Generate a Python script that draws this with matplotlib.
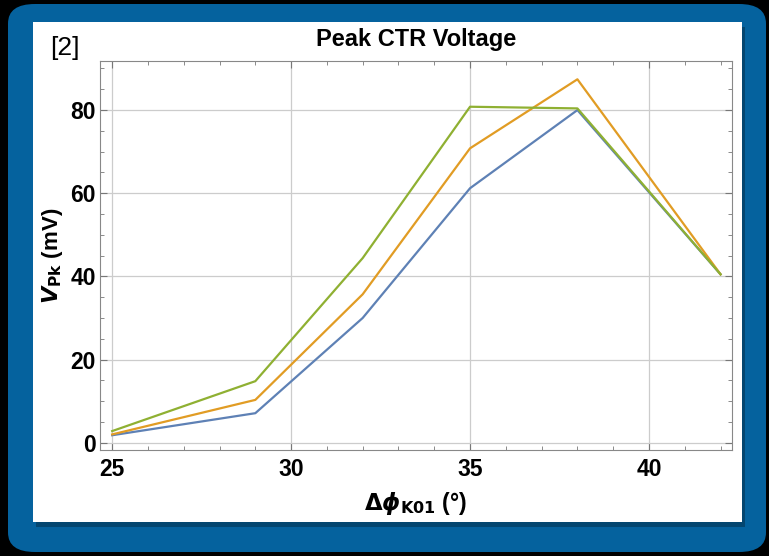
import matplotlib.pyplot as plt
from matplotlib.patches import FancyBboxPatch, Rectangle
from matplotlib.ticker import MultipleLocator

# phase offset (deg) and peak CTR voltage (mV) per setting
phase = [25, 29, 32, 35, 38, 42]
v_blue = [1.8, 7.1, 30.0, 61.2, 80.0, 40.5]
v_orange = [2.0, 10.3, 35.7, 70.8, 87.4, 40.5]
v_green = [2.8, 14.8, 44.4, 80.8, 80.4, 40.5]

W, H = 769, 556
fig = plt.figure(figsize=(W / 100, H / 100), dpi=100)
fig.patch.set_facecolor('black')

# blue rounded frame
frame = FancyBboxPatch((8 / W, 4 / H), 758 / W, 548 / H,
                       boxstyle="round,pad=0,rounding_size=0.035",
                       transform=fig.transFigure, facecolor='#05629e',
                       edgecolor='none', zorder=0)
fig.patches.append(frame)
# white panel with a soft shadow
fig.patches.append(Rectangle((36 / W, (H - 527) / H), 709 / W, 500 / H,
                             transform=fig.transFigure, facecolor='#044670',
                             edgecolor='none', zorder=0.5))
fig.patches.append(Rectangle((33 / W, (H - 522) / H), 709 / W, 500 / H,
                             transform=fig.transFigure, facecolor='white',
                             edgecolor='none', zorder=1))

ax = fig.add_axes([100 / W, (H - 450) / H, 632 / W, 389 / H])
ax.set_zorder(2)
ax.plot(phase, v_blue, color='#5e81b5', lw=1.6)
ax.plot(phase, v_orange, color='#e19c24', lw=1.6)
ax.plot(phase, v_green, color='#8fb032', lw=1.6)

ax.set_xlim(24.66, 42.32)
ax.set_ylim(-1.75, 91.8)
ax.xaxis.set_major_locator(MultipleLocator(5))
ax.xaxis.set_minor_locator(MultipleLocator(1))
ax.yaxis.set_major_locator(MultipleLocator(20))
ax.yaxis.set_minor_locator(MultipleLocator(5))
ax.grid(True, which='major', color='#cccccc', lw=0.9)
ax.tick_params(which='both', direction='in', top=True, right=True,
               color='#777777')
ax.tick_params(which='major', length=5, labelsize=16.5)
ax.tick_params(which='minor', length=3)
ax.tick_params(axis='x', pad=6)
ax.tick_params(axis='y', pad=3)
for lab in ax.get_xticklabels() + ax.get_yticklabels():
    lab.set_fontweight('bold')
    lab.set_family('Liberation Sans')
for s in ax.spines.values():
    s.set_color('#888888')

ax.set_title('Peak CTR Voltage', fontsize=17, fontweight='bold',
             family='Liberation Sans', pad=11)
ax.set_xlabel(r'$\mathbf{\Delta}\boldsymbol{\phi}_{\mathbf{K01}}$ (°)',
              fontsize=16.5, fontweight='bold', family='Liberation Sans',
              labelpad=6)
ax.set_ylabel(r'$\boldsymbol{V}_{\mathbf{Pk}}$ (mV)', fontsize=16,
              fontweight='bold', family='Liberation Sans', labelpad=4)
fig.text(50 / W, 1 - 55 / H, '[2]', fontsize=19, family='Liberation Sans',
         va='baseline')

fig.savefig('out.png', dpi=100, facecolor='black')
